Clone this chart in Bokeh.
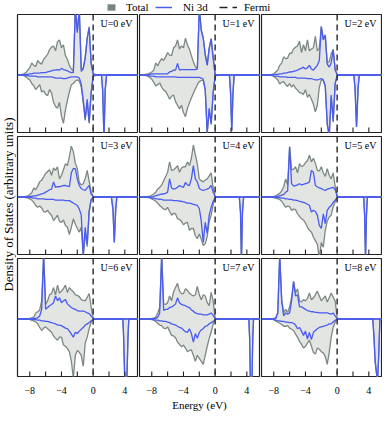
import math
from bokeh.plotting import figure
from bokeh.models import Range1d, FixedTicker, Span, Label, Legend, LegendItem
from bokeh.layouts import row, column
from bokeh.embed import file_html
from bokeh.resources import INLINE

# ---------------- data ----------------
E_GRID = [-9.5, -9.25, -9.0, -8.75, -8.5, -8.25, -8.0, -7.75, -7.5, -7.25, -7.0,
          -6.75, -6.5, -6.25, -6.0, -5.75, -5.5, -5.25, -5.0, -4.75, -4.5,
          -4.25, -4.0, -3.75, -3.5, -3.25, -3.0, -2.75, -2.5, -2.25, -2.0,
          -1.75, -1.5, -1.25, -1.0, -0.75, -0.5, -0.25, 0.0, 0.25, 0.5]

# U = 0 eV
TOT_UP_U0 = [0, 0, 0.01, 0.02, 0.04, 0.08, 0.12, 0.2, 0.16, 0.14, 0.24, 0.2, 0.18, 0.26, 0.3, 0.34, 0.42, 0.46, 0.48, 0.4, 0.55, 0.58, 0.45, 0.5, 0.32, 0.26, 0.16, 0.1, 0.06, 1.1, 0.72, 1.1, 0.1, 0.12, 0.3, 0.62, 0.8, 0.2, 0.03, 0.01, 0]
TOT_DN_U0 = [0, 0, 0, -0.01, -0.03, -0.06, -0.08, -0.14, -0.18, -0.24, -0.2, -0.16, -0.28, -0.26, -0.32, -0.34, -0.24, -0.3, -0.45, -0.52, -0.55, -0.45, -0.68, -0.8, -0.58, -0.42, -0.28, -0.16, -0.14, -0.1, -0.08, -0.1, -0.2, -0.45, -0.75, -0.45, -0.8, -0.3, -0.02, -0.01, 0]
NI_UP_U0 = [0, 0, 0, 0, 0.01, 0.01, 0.02, 0.02, 0.03, 0.03, 0.03, 0.03, 0.04, 0.04, 0.04, 0.05, 0.06, 0.07, 0.08, 0.08, 0.09, 0.08, 0.11, 0.09, 0.08, 0.07, 0.05, 0.04, 0.04, 1.1, 0.7, 1.1, 0.06, 0.1, 0.28, 0.6, 0.78, 0.18, 0.02, 0, 0]
NI_DN_U0 = [0, 0, 0, 0, -0.01, -0.01, -0.02, -0.02, -0.02, -0.02, -0.03, -0.03, -0.03, -0.03, -0.03, -0.03, -0.03, -0.03, -0.04, -0.05, -0.05, -0.05, -0.05, -0.06, -0.06, -0.05, -0.04, -0.03, -0.03, -0.03, -0.03, -0.05, -0.15, -0.42, -0.72, -0.4, -0.78, -0.28, -0.02, 0, 0]
CB_E_U0 = [1.05, 1.2, 1.37, 1.52, 1.7, 5.8]
CB_DN_U0 = [0, -0.25, -1.05, -0.25, 0, 0]

# U = 1 eV
TOT_UP_U1 = [0, 0, 0, 0.01, 0.02, 0.03, 0.05, 0.08, 0.2, 0.15, 0.22, 0.27, 0.24, 0.3, 0.37, 0.33, 0.32, 0.45, 0.48, 0.58, 0.43, 0.48, 0.45, 0.61, 0.5, 0.43, 0.32, 0.22, 0.14, 0.1, 1.1, 0.74, 0.62, 0.35, 0.18, 0.45, 0.6, 0.3, 0.01, 0, 0]
TOT_DN_U1 = [0, 0, 0, -0.01, -0.02, -0.04, -0.07, -0.12, -0.18, -0.16, -0.13, -0.2, -0.25, -0.27, -0.33, -0.4, -0.35, -0.33, -0.44, -0.5, -0.56, -0.5, -0.62, -0.69, -0.55, -0.46, -0.38, -0.3, -0.23, -0.16, -0.11, -0.09, -0.09, -0.26, -0.96, -0.58, -0.82, -0.3, -0.02, 0, 0]
NI_UP_U1 = [0, 0, 0, 0, 0, 0.01, 0.02, 0.02, 0.02, 0.02, 0.02, 0.02, 0.02, 0.02, 0.02, 0.05, 0.06, 0.08, 0.08, 0.19, 0.08, 0.09, 0.09, 0.09, 0.09, 0.09, 0.09, 0.09, 0.09, 0.1, 1.1, 0.74, 0.6, 0.33, 0.16, 0.44, 0.6, 0.28, 0.01, 0, 0]
NI_DN_U1 = [0, 0, 0, 0, -0.01, -0.02, -0.02, -0.02, -0.03, -0.03, -0.03, -0.03, -0.03, -0.03, -0.03, -0.03, -0.03, -0.03, -0.03, -0.04, -0.04, -0.04, -0.04, -0.04, -0.04, -0.04, -0.04, -0.04, -0.04, -0.04, -0.04, -0.05, -0.07, -0.24, -0.95, -0.55, -0.8, -0.28, -0.02, 0, 0]
CB_E_U1 = [1.8, 1.95, 2.1, 2.25, 2.4, 5.8]
CB_DN_U1 = [0, -0.3, -0.92, -0.3, 0, 0]

# U = 2 eV
TOT_UP_U2 = [0, 0, 0, 0, 0, 0.01, 0.02, 0.05, 0.08, 0.16, 0.2, 0.3, 0.27, 0.28, 0.36, 0.36, 0.43, 0.46, 0.48, 0.56, 0.37, 0.5, 0.4, 0.58, 0.4, 0.43, 0.45, 0.64, 0.4, 0.44, 0.8, 0.6, 0.66, 0.2, 0.22, 0.35, 0.42, 0.1, 0.01, 0, 0]
TOT_DN_U2 = [0, 0, 0, 0, 0, -0.01, -0.02, -0.05, -0.08, -0.15, -0.12, -0.11, -0.16, -0.19, -0.14, -0.2, -0.16, -0.22, -0.25, -0.29, -0.3, -0.32, -0.24, -0.37, -0.32, -0.4, -0.48, -0.61, -0.5, -0.2, -0.08, -0.09, -0.2, -0.82, -1.02, -0.36, -0.78, -0.15, -0.02, 0, 0]
NI_UP_U2 = [0, 0, 0, 0, 0, 0, 0.01, 0.01, 0.01, 0.02, 0.02, 0.03, 0.03, 0.04, 0.05, 0.05, 0.06, 0.07, 0.08, 0.1, 0.11, 0.13, 0.1, 0.12, 0.16, 0.1, 0.08, 0.12, 0.16, 0.24, 0.8, 0.58, 0.66, 0.18, 0.13, 0.2, 0.42, 0.08, 0.01, 0, 0]
NI_DN_U2 = [0, 0, 0, 0, 0, 0, -0.02, -0.02, -0.02, -0.03, -0.03, -0.03, -0.03, -0.04, -0.04, -0.04, -0.04, -0.04, -0.05, -0.05, -0.05, -0.05, -0.05, -0.06, -0.06, -0.06, -0.07, -0.08, -0.08, -0.07, -0.06, -0.08, -0.18, -0.8, -1.0, -0.33, -0.76, -0.13, -0.01, 0, 0]
CB_E_U2 = [2.1, 2.25, 2.45, 2.65, 2.8, 5.8]
CB_DN_U2 = [0, -0.2, -0.86, -0.2, 0, 0]

# U = 3 eV
TOT_UP_U3 = [0, 0, 0, 0, 0.01, 0.02, 0.04, 0.07, 0.15, 0.12, 0.18, 0.25, 0.28, 0.33, 0.39, 0.42, 0.45, 0.36, 0.48, 0.44, 0.5, 0.3, 0.36, 0.45, 0.55, 0.52, 0.67, 0.84, 0.75, 0.56, 0.47, 0.24, 0.2, 0.22, 0.3, 0.44, 0.26, 0.08, 0.01, 0, 0]
TOT_DN_U3 = [0, 0, 0, 0, -0.01, -0.02, -0.03, -0.05, -0.09, -0.14, -0.17, -0.15, -0.18, -0.24, -0.25, -0.22, -0.27, -0.3, -0.39, -0.35, -0.3, -0.4, -0.42, -0.38, -0.47, -0.5, -0.62, -0.5, -0.36, -0.45, -0.52, -0.58, -0.5, -0.98, -0.6, -0.82, -0.25, -0.05, -0.01, 0, 0]
NI_UP_U3 = [0, 0, 0, 0, 0, 0, 0.01, 0.01, 0.02, 0.02, 0.03, 0.04, 0.05, 0.06, 0.08, 0.1, 0.12, 0.13, 0.25, 0.16, 0.17, 0.17, 0.18, 0.19, 0.19, 0.18, 0.17, 0.4, 0.47, 0.47, 0.3, 0.19, 0.14, 0.12, 0.11, 0.15, 0.19, 0.05, 0.01, 0, 0]
NI_DN_U3 = [0, 0, 0, 0, 0, 0, -0.01, -0.01, -0.02, -0.02, -0.03, -0.03, -0.03, -0.03, -0.04, -0.04, -0.04, -0.04, -0.04, -0.05, -0.05, -0.05, -0.05, -0.05, -0.06, -0.06, -0.06, -0.08, -0.1, -0.12, -0.14, -0.2, -0.3, -0.97, -0.5, -0.78, -0.22, -0.04, -0.01, 0, 0]
CB_E_U3 = [2.3, 2.5, 2.67, 2.85, 3.0, 5.8]
CB_DN_U3 = [0, -0.2, -0.75, -0.2, 0, 0]

# U = 4 eV
TOT_UP_U4 = [0, 0, 0, 0, 0.01, 0.01, 0.03, 0.05, 0.08, 0.13, 0.16, 0.2, 0.27, 0.34, 0.41, 0.58, 0.44, 0.45, 0.48, 0.52, 0.41, 0.48, 0.5, 0.5, 0.58, 0.52, 0.64, 0.86, 0.7, 0.55, 0.3, 0.27, 0.25, 0.28, 0.3, 0.35, 0.4, 0.15, 0.01, 0, 0]
TOT_DN_U4 = [0, 0, 0, 0, -0.01, -0.01, -0.03, -0.05, -0.07, -0.1, -0.14, -0.17, -0.2, -0.21, -0.17, -0.24, -0.3, -0.27, -0.28, -0.36, -0.37, -0.4, -0.46, -0.43, -0.42, -0.55, -0.52, -0.52, -0.64, -0.69, -0.61, -0.7, -0.8, -0.77, -0.65, -0.4, -0.3, -0.12, -0.02, 0, 0]
NI_UP_U4 = [0, 0, 0, 0, 0, 0, 0, 0.01, 0.02, 0.03, 0.04, 0.05, 0.05, 0.06, 0.08, 0.3, 0.15, 0.13, 0.14, 0.16, 0.19, 0.17, 0.16, 0.24, 0.2, 0.19, 0.3, 0.52, 0.3, 0.25, 0.14, 0.12, 0.11, 0.12, 0.13, 0.15, 0.19, 0.08, 0.01, 0, 0]
NI_DN_U4 = [0, 0, 0, 0, 0, -0.01, -0.02, -0.02, -0.03, -0.03, -0.04, -0.04, -0.05, -0.05, -0.05, -0.05, -0.05, -0.06, -0.06, -0.06, -0.07, -0.07, -0.08, -0.09, -0.1, -0.1, -0.11, -0.12, -0.13, -0.14, -0.19, -0.4, -0.75, -0.42, -0.6, -0.3, -0.17, -0.07, -0.01, 0, 0]
CB_E_U4 = [3.05, 3.2, 3.32, 3.45, 3.6, 5.8]
CB_DN_U4 = [0, -0.25, -1.05, -0.25, 0, 0]

# U = 5 eV
TOT_UP_U5 = [0, 0, 0, 0, 0, 0, 0.01, 0.02, 0.04, 0.06, 0.1, 0.17, 0.3, 0.2, 0.83, 0.45, 0.46, 0.5, 0.4, 0.55, 0.5, 0.52, 0.57, 0.6, 0.69, 0.58, 0.64, 0.56, 0.44, 0.43, 0.5, 0.4, 0.34, 0.47, 0.36, 0.3, 0.4, 0.18, 0.01, 0, 0]
TOT_DN_U5 = [0, 0, 0, 0, 0, 0, -0.01, -0.02, -0.03, -0.04, -0.07, -0.12, -0.17, -0.15, -0.16, -0.22, -0.2, -0.21, -0.28, -0.32, -0.36, -0.38, -0.43, -0.5, -0.55, -0.58, -0.66, -0.72, -0.78, -1.02, -0.75, -0.83, -0.55, -0.4, -0.33, -0.3, -0.16, -0.08, -0.01, 0, 0]
NI_UP_U5 = [0, 0, 0, 0, 0, 0, 0, 0.01, 0.01, 0.02, 0.03, 0.04, 0.08, 0.1, 0.83, 0.22, 0.18, 0.19, 0.2, 0.22, 0.2, 0.21, 0.22, 0.23, 0.25, 0.44, 0.41, 0.19, 0.17, 0.15, 0.14, 0.12, 0.11, 0.13, 0.14, 0.15, 0.16, 0.12, 0.02, 0, 0]
NI_DN_U5 = [0, 0, 0, 0, 0, 0, 0, -0.01, -0.01, -0.01, -0.02, -0.02, -0.03, -0.03, -0.04, -0.04, -0.05, -0.05, -0.06, -0.07, -0.08, -0.09, -0.1, -0.12, -0.14, -0.25, -0.22, -0.24, -0.3, -0.47, -0.52, -0.28, -0.44, -0.22, -0.17, -0.14, -0.09, -0.05, -0.01, 0, 0]
CB_E_U5 = [3.35, 3.47, 3.58, 3.7, 3.82, 5.8]
CB_DN_U5 = [0, -0.3, -1.05, -0.3, 0, 0]

# U = 6 eV
TOT_UP_U6 = [0, 0, 0, 0, 0, 0, 0.01, 0.02, 0.03, 0.1, 0.12, 0.15, 0.3, 1.05, 0.24, 0.3, 0.4, 0.42, 0.52, 0.4, 0.56, 0.43, 0.46, 0.5, 0.56, 0.44, 0.52, 0.48, 0.45, 0.4, 0.39, 0.37, 0.32, 0.31, 0.3, 0.36, 0.42, 0.2, 0.02, 0, 0]
TOT_DN_U6 = [0, 0, 0, 0, 0, 0, -0.01, -0.02, -0.03, -0.05, -0.08, -0.14, -0.19, -0.15, -0.13, -0.16, -0.19, -0.22, -0.28, -0.32, -0.35, -0.3, -0.3, -0.43, -0.45, -0.49, -0.54, -0.7, -0.98, -0.6, -0.52, -0.55, -0.6, -0.78, -0.4, -0.3, -0.16, -0.05, -0.01, 0, 0]
NI_UP_U6 = [0, 0, 0, 0, 0, 0, 0, 0, 0.01, 0.01, 0.02, 0.05, 0.16, 1.05, 0.16, 0.19, 0.22, 0.24, 0.27, 0.38, 0.3, 0.35, 0.27, 0.3, 0.32, 0.25, 0.22, 0.19, 0.17, 0.16, 0.14, 0.13, 0.13, 0.13, 0.12, 0.1, 0.09, 0.05, 0.01, 0, 0]
NI_DN_U6 = [0, 0, 0, 0, 0, 0, 0, -0.01, -0.01, -0.01, -0.02, -0.02, -0.03, -0.03, -0.04, -0.04, -0.05, -0.06, -0.07, -0.08, -0.1, -0.1, -0.11, -0.13, -0.15, -0.16, -0.2, -0.25, -0.3, -0.22, -0.24, -0.2, -0.17, -0.14, -0.1, -0.08, -0.06, -0.03, -0.01, 0, 0]
CB_E_U6 = [3.75, 3.85, 4.0, 4.25, 4.4, 4.5, 5.8]
CB_DN_U6 = [0, -0.3, -1.05, -1.05, -0.3, 0, 0]

# U = 7 eV
TOT_UP_U7 = [0, 0, 0, 0, 0, 0, 0.01, 0.01, 0.03, 0.1, 0.19, 1.05, 0.25, 0.24, 0.27, 0.38, 0.3, 0.45, 0.52, 0.59, 0.46, 0.42, 0.42, 0.5, 0.47, 0.43, 0.4, 0.38, 0.4, 0.54, 0.4, 0.32, 0.4, 0.38, 0.27, 0.22, 0.44, 0.3, 0.02, 0, 0]
TOT_DN_U7 = [0, 0, 0, 0, 0, 0, -0.01, -0.02, -0.04, -0.07, -0.1, -0.11, -0.15, -0.16, -0.13, -0.2, -0.27, -0.28, -0.31, -0.38, -0.42, -0.46, -0.43, -0.48, -0.54, -0.52, -0.51, -0.6, -0.7, -0.6, -0.65, -0.7, -0.75, -0.6, -0.45, -0.32, -0.22, -0.08, -0.01, 0, 0]
NI_UP_U7 = [0, 0, 0, 0, 0, 0, 0, 0.01, 0.01, 0.03, 0.1, 1.05, 0.14, 0.16, 0.16, 0.19, 0.2, 0.22, 0.25, 0.35, 0.27, 0.24, 0.23, 0.22, 0.2, 0.19, 0.15, 0.13, 0.1, 0.09, 0.08, 0.08, 0.07, 0.07, 0.07, 0.08, 0.1, 0.06, 0.01, 0, 0]
NI_DN_U7 = [0, 0, 0, 0, 0, 0, 0, -0.01, -0.02, -0.02, -0.03, -0.03, -0.04, -0.04, -0.05, -0.06, -0.08, -0.09, -0.1, -0.12, -0.14, -0.15, -0.18, -0.21, -0.22, -0.16, -0.24, -0.38, -0.24, -0.32, -0.22, -0.18, -0.16, -0.12, -0.11, -0.08, -0.06, -0.04, -0.01, 0, 0]
CB_E_U7 = [4.25, 4.35, 4.45, 4.65, 4.75, 4.85, 5.8]
CB_DN_U7 = [0, -0.3, -1.05, -1.05, -0.3, 0, 0]

# U = 8 eV
TOT_UP_U8 = [0, 0, 0, 0, 0, 0, 0.01, 0.02, 0.1, 1.05, 0.32, 0.1, 0.16, 0.11, 0.2, 0.36, 0.62, 0.43, 0.5, 0.3, 0.28, 0.32, 0.3, 0.34, 0.43, 0.32, 0.35, 0.4, 0.46, 0.38, 0.3, 0.34, 0.38, 0.28, 0.35, 0.43, 0.36, 0.3, 0.02, 0, 0]
TOT_DN_U8 = [0, 0, 0, 0, 0, 0, -0.01, -0.03, -0.05, -0.07, -0.09, -0.12, -0.12, -0.11, -0.15, -0.17, -0.19, -0.25, -0.3, -0.37, -0.42, -0.48, -0.45, -0.4, -0.35, -0.45, -0.55, -0.58, -0.48, -0.5, -0.54, -0.56, -0.62, -0.75, -0.55, -0.3, -0.14, -0.05, -0.01, 0, 0]
NI_UP_U8 = [0, 0, 0, 0, 0, 0, 0, 0.01, 0.1, 1.05, 0.3, 0.05, 0.1, 0.08, 0.1, 0.3, 0.62, 0.38, 0.4, 0.2, 0.2, 0.18, 0.16, 0.14, 0.13, 0.12, 0.12, 0.11, 0.11, 0.1, 0.1, 0.1, 0.1, 0.1, 0.09, 0.08, 0.1, 0.05, 0.01, 0, 0]
NI_DN_U8 = [0, 0, 0, 0, 0, 0, -0.01, -0.02, -0.03, -0.03, -0.04, -0.04, -0.05, -0.05, -0.06, -0.06, -0.07, -0.1, -0.16, -0.14, -0.2, -0.27, -0.2, -0.33, -0.22, -0.34, -0.22, -0.19, -0.16, -0.14, -0.13, -0.12, -0.11, -0.1, -0.08, -0.08, -0.05, -0.02, -0.01, 0, 0]
CB_E_U8 = [4.5, 4.65, 4.8, 5.1, 5.25, 5.4, 5.8]
CB_DN_U8 = [0, -0.3, -0.7, -1.05, -0.6, 0, 0]

PANEL_LABELS = ["U=0 eV", "U=1 eV", "U=2 eV", "U=3 eV", "U=4 eV",
                "U=5 eV", "U=6 eV", "U=7 eV", "U=8 eV"]
MAJOR_TICKS = [-8, -4, 0, 4]
MINOR_TICKS = [-6, -2, 2]
FERMI = 0.0
X_START, X_END = -9.55, 5.6
Y_START, Y_END = -0.95, 1.0

PANELS = [
    (TOT_UP_U0, TOT_DN_U0, NI_UP_U0, NI_DN_U0, CB_E_U0, CB_DN_U0),
    (TOT_UP_U1, TOT_DN_U1, NI_UP_U1, NI_DN_U1, CB_E_U1, CB_DN_U1),
    (TOT_UP_U2, TOT_DN_U2, NI_UP_U2, NI_DN_U2, CB_E_U2, CB_DN_U2),
    (TOT_UP_U3, TOT_DN_U3, NI_UP_U3, NI_DN_U3, CB_E_U3, CB_DN_U3),
    (TOT_UP_U4, TOT_DN_U4, NI_UP_U4, NI_DN_U4, CB_E_U4, CB_DN_U4),
    (TOT_UP_U5, TOT_DN_U5, NI_UP_U5, NI_DN_U5, CB_E_U5, CB_DN_U5),
    (TOT_UP_U6, TOT_DN_U6, NI_UP_U6, NI_DN_U6, CB_E_U6, CB_DN_U6),
    (TOT_UP_U7, TOT_DN_U7, NI_UP_U7, NI_DN_U7, CB_E_U7, CB_DN_U7),
    (TOT_UP_U8, TOT_DN_U8, NI_UP_U8, NI_DN_U8, CB_E_U8, CB_DN_U8),
]

# ---------------- style ----------------
SERIF = "Liberation Serif"
FILL = "#e2e5e2"
GRAY = "#7d8883"
LEGEND_GRAY = "#7a8681"
BLUE = "#4a5cf0"
DARK = "#222222"
FW, FH = 120, 118


def make_panel(i):
    tu, td, nu, nd, ce, cd = PANELS[i]
    bottom = (i // 3) == 2
    x = E_GRID + ce
    zeros = [0.0] * len(ce)
    tot_up = tu + zeros
    tot_dn = td + cd
    ni_up = nu + zeros
    ni_dn = nd + cd

    p = figure(frame_width=FW, frame_height=FH,
               x_range=Range1d(X_START, X_END), y_range=Range1d(Y_START, Y_END),
               toolbar_location=None, output_backend="svg", y_axis_location=None,
               x_axis_location="below" if bottom else None,
               min_border_left=1, min_border_right=1, min_border_top=1,
               min_border_bottom=35 if bottom else 3)
    p.grid.visible = False
    p.outline_line_color = DARK
    p.outline_line_width = 1.2
    p.outline_line_alpha = 1.0
    p.background_fill_color = "white"
    p.border_fill_color = "white"

    p.varea(x=x, y1=tot_dn, y2=tot_up, fill_color=FILL)
    p.line(x, tot_up, line_color=GRAY, line_width=1.3)
    p.line(x, tot_dn, line_color=GRAY, line_width=1.3)
    p.line(x, ni_up, line_color=BLUE, line_width=1.3)
    p.line(x, ni_dn, line_color=BLUE, line_width=1.3)

    # inward tick marks on the bottom edge (major + minor), half clipped by the frame
    tick_x = MAJOR_TICKS + MINOR_TICKS
    p.scatter(x=tick_x, y=[Y_START] * len(tick_x), marker="dash", size=10,
              angle=math.pi / 2, line_color=DARK, line_width=1.1)

    p.add_layout(Span(location=FERMI, dimension="height", line_color="#333333",
                      line_dash="6 4", line_width=1.5))
    p.add_layout(Label(x=X_END, y=Y_END, x_offset=-5, y_offset=-3,
                       text=PANEL_LABELS[i], text_align="right", text_baseline="top",
                       text_font=SERIF, text_font_size="10px", text_color="black"))

    if bottom:
        ax = p.xaxis[0]
        ax.ticker = FixedTicker(ticks=MAJOR_TICKS, minor_ticks=MINOR_TICKS)
        ax.major_tick_in = 0
        ax.major_tick_out = 0
        ax.minor_tick_in = 0
        ax.minor_tick_out = 0
        ax.axis_line_color = None
        ax.major_label_text_font = SERIF
        ax.major_label_text_font_size = "10px"
        ax.major_label_text_color = "black"
        ax.major_label_standoff = 10
        if i == 7:
            ax.axis_label = "Energy (eV)"
            ax.axis_label_text_font = SERIF
            ax.axis_label_text_font_size = "11px"
            ax.axis_label_text_font_style = "normal"
            ax.axis_label_text_color = "black"
            ax.axis_label_standoff = 2
    return p


panels = [make_panel(i) for i in range(9)]
grid = column(row(*panels[0:3]), row(*panels[3:6]), row(*panels[6:9]))

GRID_H = 122 + 122 + 154

# y-axis title
ylab = figure(width=16, height=GRID_H, x_range=Range1d(0, 1), y_range=Range1d(0, 1),
              toolbar_location=None, output_backend="svg",
              x_axis_location=None, y_axis_location=None, min_border=0)
ylab.grid.visible = False
ylab.outline_line_color = None
ylab.add_layout(Label(x=0.5, y=0.52, text="Density of States (arbitrary units)",
                      angle=math.pi / 2, text_align="center", text_baseline="middle",
                      text_font=SERIF, text_font_size="13px", text_color="black"))

# legend strip (dummy renderers lie outside the visible range)
lf = figure(width=380, height=13, x_range=Range1d(0, 1), y_range=Range1d(0, 1),
            toolbar_location=None, output_backend="svg",
            x_axis_location=None, y_axis_location=None, min_border=0)
lf.grid.visible = False
lf.outline_line_color = None
r_tot = lf.varea(x=[5, 6], y1=[5, 5], y2=[6, 6], fill_color=LEGEND_GRAY)
r_ni = lf.line(x=[5, 6], y=[5, 5], line_color=BLUE, line_width=1.5)
r_ef = lf.line(x=[5, 6], y=[5, 5], line_color="#222222", line_width=1.5, line_dash="8 5")

for label, rend, xpos, gw, stand in [("Total", r_tot, 106, 10, 10),
                                     ("Ni 3d", r_ni, 155, 17, 11),
                                     ("Fermi", r_ef, 219, 18, 7)]:
    lg = Legend(items=[LegendItem(label=label, renderers=[rend])],
                location=(xpos, 0), orientation="horizontal",
                padding=0, margin=0, border_line_color=None,
                background_fill_alpha=0, glyph_width=gw, glyph_height=8,
                label_height=8, label_standoff=stand,
                label_text_font=SERIF, label_text_font_size="11px",
                label_text_color="black")
    lf.add_layout(lg, "center")

layout = column(lf, row(ylab, grid))

open("out.html", "w").write(file_html(layout, INLINE))
